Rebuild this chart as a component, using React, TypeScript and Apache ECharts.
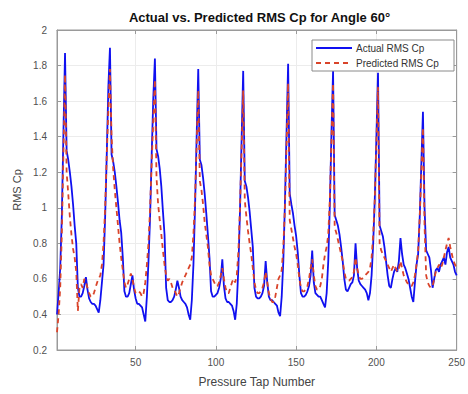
import React, { useEffect, useRef } from "react";
import * as echarts from "echarts";

// Pressure tap numbers 1..250
const tapCount = 250;
const xTickValues = [50, 100, 150, 200, 250];
const yMin = 0.2;
const yMax = 2;
const yStep = 0.2;
const seriesNames = ["Actual RMS Cp", "Predicted RMS Cp"];

const actualRms = [
  0.40, 0.52, 0.66, 0.95, 1.42, 1.87, 1.32, 1.27, 1.20, 1.12,
  1.02, 0.90, 0.80, 0.55, 0.50, 0.50, 0.52, 0.56, 0.61, 0.54,
  0.49, 0.47, 0.46, 0.46, 0.45, 0.43, 0.41, 0.48, 0.58, 0.68,
  0.95, 1.30, 1.68, 1.90, 1.30, 1.26, 1.20, 1.12, 1.03, 0.93,
  0.86, 0.72, 0.53, 0.50, 0.50, 0.52, 0.57, 0.62, 0.54, 0.49,
  0.46, 0.46, 0.45, 0.44, 0.40, 0.36, 0.50, 0.70, 0.95, 1.30,
  1.62, 1.84, 1.33, 1.29, 1.22, 1.12, 0.98, 0.85, 0.55, 0.48,
  0.47, 0.47, 0.48, 0.50, 0.54, 0.59, 0.55, 0.50, 0.48, 0.47,
  0.46, 0.44, 0.40, 0.37, 0.48, 0.68, 1.00, 1.40, 1.78, 1.27,
  1.24, 1.17, 1.08, 0.97, 0.85, 0.72, 0.53, 0.50, 0.50, 0.51,
  0.52, 0.55, 0.60, 0.71, 0.56, 0.49, 0.47, 0.47, 0.46, 0.45,
  0.42, 0.37, 0.46, 0.66, 0.98, 1.38, 1.77, 1.15, 1.12, 1.06,
  0.98, 0.88, 0.78, 0.55, 0.50, 0.49, 0.49, 0.50, 0.52, 0.56,
  0.70, 0.58, 0.50, 0.48, 0.48, 0.47, 0.46, 0.45, 0.41, 0.39,
  0.50, 0.70, 1.02, 1.42, 1.81, 1.08, 1.02, 0.97, 0.90, 0.84,
  0.75, 0.62, 0.52, 0.50, 0.50, 0.51, 0.53, 0.56, 0.62, 0.76,
  0.58, 0.52, 0.51, 0.50, 0.50, 0.48, 0.46, 0.44, 0.52, 0.70,
  1.02, 1.42, 1.77, 0.96, 0.93, 0.90, 0.85, 0.78, 0.70, 0.60,
  0.54, 0.53, 0.55, 0.57, 0.58, 0.62, 0.80, 0.66, 0.59, 0.57,
  0.56, 0.55, 0.54, 0.52, 0.48, 0.52, 0.62, 0.80, 1.05, 1.40,
  1.76, 0.90, 0.87, 0.84, 0.78, 0.70, 0.62, 0.56, 0.55, 0.60,
  0.64, 0.66, 0.64, 0.70, 0.83, 0.74, 0.68, 0.66, 0.63, 0.60,
  0.55, 0.50, 0.47, 0.58, 0.68, 0.74, 0.95, 1.25, 1.54, 1.00,
  0.76, 0.74, 0.72, 0.65, 0.55, 0.60, 0.65, 0.66, 0.64, 0.68,
  0.70, 0.72, 0.68, 0.75, 0.78, 0.72, 0.70, 0.68, 0.64, 0.62,
];

const predictedRms = [
  0.30, 0.40, 0.55, 0.85, 1.30, 1.75, 1.20, 1.08, 0.95, 0.85,
  0.77, 0.72, 0.64, 0.42, 0.55, 0.57, 0.55, 0.60, 0.58, 0.55,
  0.52, 0.50, 0.50, 0.52, 0.55, 0.58, 0.60, 0.62, 0.68, 0.80,
  1.00, 1.30, 1.55, 1.78, 1.40, 1.22, 1.10, 1.00, 0.90, 0.80,
  0.72, 0.65, 0.58, 0.55, 0.57, 0.60, 0.63, 0.60, 0.55, 0.52,
  0.52, 0.53, 0.52, 0.50, 0.52, 0.58, 0.68, 0.80, 1.00, 1.25,
  1.50, 1.72, 1.17, 1.02, 0.93, 0.85, 0.76, 0.68, 0.62, 0.59,
  0.60, 0.58, 0.55, 0.54, 0.52, 0.50, 0.52, 0.55, 0.58, 0.60,
  0.62, 0.64, 0.66, 0.68, 0.72, 0.85, 1.05, 1.35, 1.66, 1.15,
  1.10, 1.02, 0.92, 0.85, 0.78, 0.68, 0.62, 0.60, 0.58, 0.56,
  0.56, 0.58, 0.62, 0.66, 0.60, 0.55, 0.52, 0.52, 0.55, 0.58,
  0.60, 0.58, 0.62, 0.75, 1.00, 1.32, 1.66, 1.04, 0.95, 0.87,
  0.80, 0.74, 0.66, 0.58, 0.54, 0.52, 0.52, 0.53, 0.55, 0.58,
  0.64, 0.58, 0.52, 0.49, 0.47, 0.47, 0.50, 0.55, 0.60, 0.62,
  0.65, 0.78, 1.00, 1.35, 1.70, 0.93, 0.88, 0.83, 0.78, 0.74,
  0.68, 0.60, 0.55, 0.53, 0.53, 0.54, 0.56, 0.60, 0.66, 0.71,
  0.62, 0.56, 0.54, 0.54, 0.56, 0.60, 0.68, 0.74, 0.78, 0.85,
  1.05, 1.38, 1.70, 0.89, 0.86, 0.82, 0.78, 0.74, 0.70, 0.64,
  0.60, 0.59, 0.59, 0.60, 0.61, 0.64, 0.72, 0.66, 0.62, 0.60,
  0.60, 0.61, 0.62, 0.63, 0.64, 0.66, 0.72, 0.85, 1.05, 1.38,
  1.68, 0.80, 0.76, 0.74, 0.72, 0.70, 0.68, 0.66, 0.64, 0.66,
  0.68, 0.66, 0.64, 0.66, 0.70, 0.66, 0.62, 0.60, 0.58, 0.57,
  0.56, 0.56, 0.58, 0.62, 0.68, 0.76, 0.95, 1.20, 1.45, 0.90,
  0.62, 0.58, 0.56, 0.55, 0.56, 0.60, 0.64, 0.66, 0.68, 0.66,
  0.68, 0.72, 0.76, 0.80, 0.83, 0.78, 0.74, 0.70, 0.68, 0.66,
];

const FONT = "'Liberation Sans', Arial, sans-serif";
const AXIS_COLOR = "#9a9a9a";
const GRID_COLOR = "#ececec";
const LABEL_COLOR = "#505050";
const BLUE = "#1010f0";
const RED = "#d9442a";

export default function App() {
  const ref = useRef<HTMLDivElement>(null);

  useEffect(() => {
    if (!ref.current) return;
    const chart = echarts.init(ref.current, null, { renderer: "svg" });
    const actualData = actualRms.map((v, i) => [i + 1, v]);
    const predictedData = predictedRms.map((v, i) => [i + 1, v]);

    const legendX = 312;
    const legendY = 40;
    const option: any = {
      animation: false,
      backgroundColor: "#fff",
      textStyle: { fontFamily: FONT },
      grid: {
        left: 57,
        right: 6,
        top: 30,
        bottom: 44,
        show: true,
        borderColor: AXIS_COLOR,
        borderWidth: 1,
        containLabel: false,
      },
      graphic: [
        {
          type: "text",
          x: 259.5,
          y: 17,
          style: {
            text: "Actual vs. Predicted RMS Cp for Angle 60°",
            font: `bold 13px ${FONT}`,
            fill: "#111",
            textAlign: "center",
            textVerticalAlign: "middle",
          },
        },
        {
          type: "rect",
          zlevel: 1,
          z: 100,
          shape: { x: legendX, y: legendY, width: 142, height: 31 },
          style: { fill: "#fff", stroke: "#8a8a8a", lineWidth: 1 },
        },
        {
          type: "line",
          zlevel: 1,
          z: 101,
          shape: { x1: legendX + 4, y1: legendY + 8, x2: legendX + 40, y2: legendY + 8 },
          style: { stroke: BLUE, lineWidth: 1.8 },
        },
        {
          type: "line",
          zlevel: 1,
          z: 101,
          shape: { x1: legendX + 4, y1: legendY + 23, x2: legendX + 40, y2: legendY + 23 },
          style: { stroke: RED, lineWidth: 1.8, lineDash: [5, 4] },
        },
        {
          type: "text",
          zlevel: 1,
          z: 101,
          x: legendX + 44,
          y: legendY + 8,
          style: {
            text: seriesNames[0],
            font: `10px ${FONT}`,
            fill: "#333",
            textVerticalAlign: "middle",
          },
        },
        {
          type: "text",
          zlevel: 1,
          z: 101,
          x: legendX + 44,
          y: legendY + 23,
          style: {
            text: seriesNames[1],
            font: `10px ${FONT}`,
            fill: "#333",
            textVerticalAlign: "middle",
          },
        },
      ],
      xAxis: [
        {
          type: "value",
          min: 1,
          max: tapCount,
          position: "bottom",
          axisLine: { show: true, lineStyle: { color: AXIS_COLOR } },
          axisTick: { show: true, inside: true, length: 4, customValues: xTickValues, lineStyle: { color: AXIS_COLOR } },
          axisLabel: { customValues: xTickValues, fontSize: 10, color: LABEL_COLOR, margin: 7, fontFamily: FONT },
          splitLine: { show: true, lineStyle: { color: GRID_COLOR } },
          name: "Pressure Tap Number",
          nameLocation: "middle",
          nameGap: 26,
          nameTextStyle: { fontSize: 12, color: "#444", fontFamily: FONT },
        },
        {
          type: "value",
          min: 1,
          max: tapCount,
          position: "top",
          axisLine: { show: true, lineStyle: { color: AXIS_COLOR } },
          axisTick: { show: true, inside: true, length: 4, customValues: xTickValues, lineStyle: { color: AXIS_COLOR } },
          axisLabel: { show: false, customValues: xTickValues },
          splitLine: { show: false },
        },
      ],
      yAxis: [
        {
          type: "value",
          min: yMin,
          max: yMax,
          interval: yStep,
          position: "left",
          axisLine: { show: true, lineStyle: { color: AXIS_COLOR } },
          axisTick: { show: true, inside: true, length: 4, lineStyle: { color: AXIS_COLOR } },
          axisLabel: {
            fontSize: 10,
            color: LABEL_COLOR,
            margin: 10,
            fontFamily: FONT,
            formatter: (v: number) => String(+v.toFixed(1)),
          },
          splitLine: { show: true, lineStyle: { color: GRID_COLOR } },
          name: "RMS Cp",
          nameLocation: "middle",
          nameGap: 31,
          nameTextStyle: { fontSize: 11, color: "#444", fontFamily: FONT },
        },
        {
          type: "value",
          min: yMin,
          max: yMax,
          interval: yStep,
          position: "right",
          axisLine: { show: true, lineStyle: { color: AXIS_COLOR } },
          axisTick: { show: true, inside: true, length: 4, lineStyle: { color: AXIS_COLOR } },
          axisLabel: { show: false },
          splitLine: { show: false },
        },
      ],
      series: [
        {
          name: seriesNames[0],
          type: "line",
          xAxisIndex: 0,
          yAxisIndex: 0,
          data: actualData,
          symbol: "none",
          lineStyle: { color: BLUE, width: 1.8 },
          itemStyle: { color: BLUE },
          z: 2,
        },
        {
          name: seriesNames[1],
          type: "line",
          xAxisIndex: 0,
          yAxisIndex: 0,
          data: predictedData,
          symbol: "none",
          lineStyle: { color: RED, width: 1.8, type: [5, 4] },
          itemStyle: { color: RED },
          z: 3,
        },
      ],
    };
    chart.setOption(option);
    return () => chart.dispose();
  }, []);

  return (
    <div
      ref={ref}
      style={{ position: "fixed", left: 0, top: 0, width: 468, height: 394, background: "#fff" }}
    />
  );
}
